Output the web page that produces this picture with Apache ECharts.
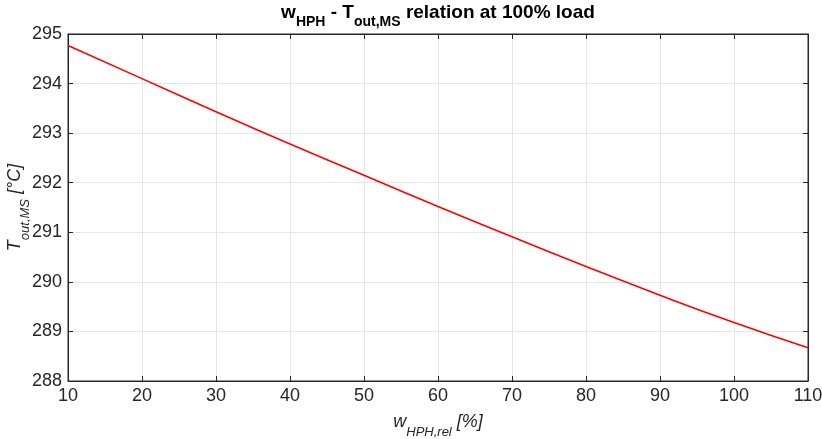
<!DOCTYPE html>
<html><head><meta charset="utf-8">
<script src="https://cdn.jsdelivr.net/npm/echarts@6/dist/echarts.min.js"></script>
<style>html,body{margin:0;padding:0;background:#fff}#c{width:822px;height:439px}</style>
</head><body><div id="c"></div>
<script>
const xValues = [10, 20, 30, 40, 50, 60, 70, 80, 90, 100, 110];
const tOut = [294.77, 294.10, 293.43, 292.78, 292.15, 291.52, 290.91, 290.31, 289.73, 289.18, 288.67];
const xTicks = [10, 110, 10];
const yTicks = [288, 295, 1];

const FONT = '"Liberation Sans", Arial, Helvetica, sans-serif';
const AX = '#262626';
const chart = echarts.init(document.getElementById('c'));
const data = xValues.map((x, i) => [x, tOut[i]]);
const baseAxis = {
  axisLine: {show: true, lineStyle: {color: AX, width: 1}},
  axisTick: {show: true, inside: true, length: 5, lineStyle: {color: AX}},
};
const nameRich = {
  m: {fontFamily: FONT, fontStyle: 'italic', fontSize: 18, color: AX, verticalAlign: 'top', lineHeight: 26},
  s: {fontFamily: FONT, fontStyle: 'italic', fontSize: 13, color: AX, verticalAlign: 'bottom', lineHeight: 26, padding: [9, 0, 0, 0]}
};
chart.setOption({
  animation: false,
  textStyle: {fontFamily: FONT},
  graphic: [{
    type: 'text', x: 438, y: 3,
    style: {
      text: '{m|w}{s|HPH}{m| - T}{s|out,MS}{m| relation at 100% load}',
      align: 'center',
      rich: {
        m: {fontFamily: FONT, fontWeight: 'bold', fontSize: 19, fill: '#000', verticalAlign: 'top', lineHeight: 26},
        s: {fontFamily: FONT, fontWeight: 'bold', fontSize: 14, fill: '#000', verticalAlign: 'bottom', lineHeight: 26, padding: [9, 0, 0, 0]}
      }
    }
  }],
  grid: {left: 68, right: 14, top: 34, bottom: 58, show: true, borderColor: AX, borderWidth: 1, backgroundColor: '#fff', outerBoundsMode: 'none', containLabel: false},
  xAxis: [{
    ...baseAxis, type: 'value', min: xTicks[0], max: xTicks[1], interval: xTicks[2],
    position: 'bottom',
    axisLabel: {color: AX, fontSize: 18, fontFamily: FONT, margin: 6},
    splitLine: {show: true, lineStyle: {color: '#e6e6e6'}},
    name: '{m|w}{s|HPH,rel}{m| [%]}',
    nameLocation: 'middle', nameGap: 32, nameMoveOverlap: false,
    nameTextStyle: {rich: nameRich}
  }, {
    ...baseAxis, type: 'value', min: xTicks[0], max: xTicks[1], interval: xTicks[2],
    position: 'top', axisLabel: {show: false}, splitLine: {show: false}
  }],
  yAxis: [{
    ...baseAxis, type: 'value', min: yTicks[0], max: yTicks[1], interval: yTicks[2],
    position: 'left',
    axisLabel: {color: AX, fontSize: 18, fontFamily: FONT, margin: 6},
    splitLine: {show: true, lineStyle: {color: '#e6e6e6'}},
    name: '{m|T}{s|out,MS}{m| [°C]}',
    nameLocation: 'middle', nameGap: 36, nameRotate: 90, nameMoveOverlap: false,
    nameTextStyle: {rich: nameRich}
  }, {
    ...baseAxis, type: 'value', min: yTicks[0], max: yTicks[1], interval: yTicks[2],
    position: 'right', axisLabel: {show: false}, splitLine: {show: false}
  }],
  series: [{
    type: 'line', data: data, smooth: true, symbol: 'none',
    lineStyle: {color: '#ff0000', width: 1.6}
  }]
});
</script></body></html>
